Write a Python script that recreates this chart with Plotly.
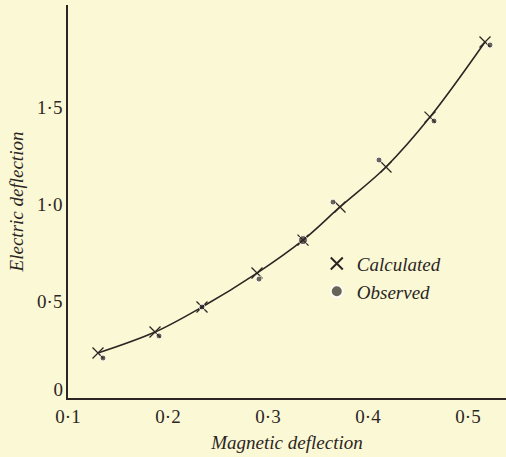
import plotly.graph_objects as go

# Calculated points (magnetic deflection, electric deflection)
calc_x = [0.130, 0.187, 0.234, 0.289, 0.335, 0.372, 0.418, 0.462, 0.517]
calc_y = [0.232, 0.340, 0.469, 0.644, 0.814, 0.985, 1.191, 1.448, 1.835]

# Observed points
obs_x = [0.135, 0.191, 0.234, 0.291, 0.335, 0.365, 0.411, 0.466, 0.522]
obs_y = [0.206, 0.320, 0.469, 0.613, 0.814, 1.010, 1.227, 1.428, 1.820]

x_tickvals = [0.1, 0.2, 0.3, 0.4, 0.5]
x_ticktext = ["0·1", "0·2", "0·3", "0·4", "0·5"]
y_tickvals = [0.5, 1.0, 1.5]
y_ticktext = ["0·5", "1·0", "1·5"]
y_origin_val = [0]
y_origin_text = ["0"]

ink = "#2b2623"
bg = "#fbf8d6"
serif = "Liberation Serif, DejaVu Serif, serif"
y_range = [0, 2.026]

obs_sizes = [6, 6, 6, 6, 9, 6, 6, 6, 6]

fig = go.Figure()
fig.add_trace(go.Scatter(
    x=calc_x, y=calc_y, mode="lines",
    line=dict(color=ink, width=1.6, shape="spline", smoothing=1.0),
    showlegend=False, hoverinfo="skip"))
fig.add_trace(go.Scatter(
    x=calc_x, y=calc_y, mode="markers", name="Calculated",
    marker=dict(symbol="x-thin", size=11, line=dict(color=ink, width=1.3))))
fig.add_trace(go.Scatter(
    x=obs_x, y=obs_y, mode="markers", name="Observed", yaxis="y2",
    marker=dict(symbol="circle", size=obs_sizes, color=ink)))

fig.update_layout(
    width=506, height=457,
    margin=dict(l=68, r=0, t=5, b=59),
    paper_bgcolor=bg, plot_bgcolor=bg,
    font=dict(family=serif, color=ink, size=19),
    legend=dict(x=0.568, y=0.39, xanchor="left", yanchor="top",
                bgcolor="rgba(0,0,0,0)",
                font=dict(family=serif, size=19, style="italic", color=ink),
                itemsizing="constant", tracegroupgap=0),
    xaxis=dict(range=[0.1, 0.538], tickvals=x_tickvals, ticktext=x_ticktext,
               showgrid=False, zeroline=False, showline=True, linecolor=ink,
               linewidth=1.6, ticks="", tickfont=dict(size=19), automargin=True,
               title=dict(text="Magnetic deflection", standoff=10,
                          font=dict(size=19, style="italic"))),
    yaxis=dict(range=y_range, tickvals=y_tickvals, ticktext=y_ticktext,
               showgrid=False, zeroline=False, showline=True, linecolor=ink,
               linewidth=1.6, ticks="", tickfont=dict(size=19), automargin=True,
               title=dict(text="Electric deflection", standoff=8,
                          font=dict(size=19, style="italic"))),
    yaxis2=dict(range=y_range, overlaying="y", side="left",
                tickvals=y_origin_val, ticktext=y_origin_text,
                showgrid=False, zeroline=False, showline=False, ticks="",
                ticklabelstandoff=4,
                tickfont=dict(size=19), ticklabelshift=-9, automargin=False),
)

fig.write_html("out.html", config={"displayModeBar": False},
               post_script="document.body.style.margin='0';document.body.style.background='%s';" % bg)
